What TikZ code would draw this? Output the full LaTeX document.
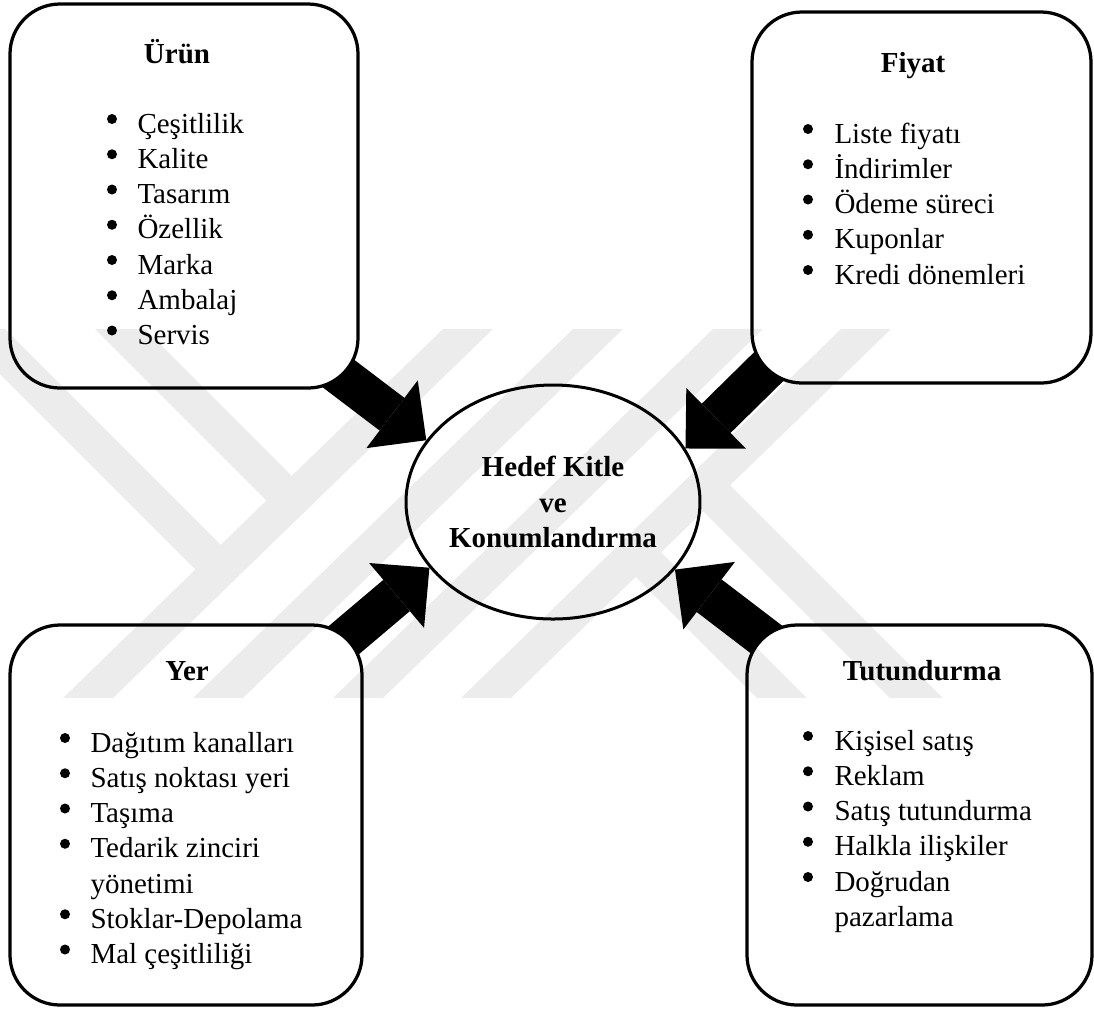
\documentclass[tikz,border=0pt]{standalone}
\usepackage{fontspec}
\setmainfont{Liberation Serif}
\usetikzlibrary{arrows.meta, shapes.geometric, backgrounds}
\tikzset{every picture/.style={font issue=\fontsize{11.6}{14.1}},
         font issue/.style={execute at begin picture={#1\selectfont}}
        }

\begin{document}
\begin{tikzpicture}[x=0.4pt, y=-0.4pt,
  mixbox/.style={draw, line width=1.3pt, rounded corners=20pt, fill=white, inner sep=0pt},
  hedefnode/.style={draw, ellipse, line width=1.2pt, fill=white, inner sep=0pt,
    minimum width=107.2pt, minimum height=93.6pt, align=center, font=\bfseries},
  baslik/.style={anchor=base, inner sep=0pt, font=\bfseries},
  liste/.style={anchor=base west, inner sep=0pt},
  blockarrow/.style={line width=16.4pt, shorten <=-16pt,
    -{Triangle[length=17.2pt, width=34pt, line width=0pt]}}]
\useasboundingbox (0,0) rectangle (1094,1009);

%Boxes
\node[mixbox, minimum width=139.2pt, minimum height=153.6pt] (urun) at (184,196) {};
\node[mixbox, minimum width=135.6pt, minimum height=148.4pt] (fiyat) at (921.5,197.5) {};
\node[mixbox, minimum width=140.8pt, minimum height=152pt] (yer) at (186,815) {};
\node[mixbox, minimum width=138pt, minimum height=152pt] (tut) at (919.5,815) {};

\node[hedefnode] (hedef) at (553,502) {Hedef Kitle\\ve\\Konumlandırma};

%Titles
\node[baslik] (urunbaslik) at (177,63) {Ürün};
\node[baslik] (fiyatbaslik) at (913,72) {Fiyat};
\node[baslik] (yerbaslik) at (187,680) {Yer};
\node[baslik] (tutbaslik) at (922,680) {Tutundurma};

%Lists
\node[liste] (urunliste) at (137,133) {\begin{tabular}[t]{@{}l@{}}
  Çeşitlilik\\ Kalite\\ Tasarım\\ Özellik\\ Marka\\ Ambalaj\\ Servis
\end{tabular}};
\node[liste] (fiyatliste) at (834,143) {\begin{tabular}[t]{@{}l@{}}
  Liste fiyatı\\ İndirimler\\ Ödeme süreci\\ Kuponlar\\ Kredi dönemleri
\end{tabular}};
\node[liste] (yerliste) at (90,752) {\begin{tabular}[t]{@{}l@{}}
  Dağıtım kanalları\\ Satış noktası yeri\\ Taşıma\\ Tedarik zinciri\\ yönetimi\\
  Stoklar-Depolama\\ Mal çeşitliliği
\end{tabular}};
\node[liste] (tutliste) at (834,750) {\begin{tabular}[t]{@{}l@{}}
  Kişisel satış\\ Reklam\\ Satış tutundurma\\ Halkla ilişkiler\\ Doğrudan\\ pazarlama
\end{tabular}};

%Bullets
\foreach \i in {0,...,6} \fill (112,119+\i*35.25) circle (5);
\foreach \i in {0,...,4} \fill (808,129+\i*35.25) circle (5);
\foreach \i in {0,1,2,3,5,6} \fill (65,738+\i*35.25) circle (5);
\foreach \i in {0,...,4} \fill (808,736+\i*35.25) circle (5);

%Arrows
\begin{scope}[on background layer]
\draw[blockarrow] (urun.south east) -- (hedef.154);
\draw[blockarrow] (fiyat.south west) -- (hedef.22);
\draw[blockarrow] (yer.north east) -- (hedef.208);
\draw[blockarrow] (tut.north west) -- (hedef.331);
\end{scope}

%Watermark
\begin{scope}
\clip (0,329) rectangle (1094,698);
\fill[black, opacity=0.075]
  \foreach \l in {443,573,713,841} {(\l,329) -- ++(50,0) -- ++(-380,369) -- ++(-50,0) -- cycle}
  (-45,329) -- (5,329) -- (233,557) -- (208,582) -- cycle
  (95,329) -- (145,329) -- (304,488) -- (279,513) -- cycle
  (718,473) -- (943,698) -- (890,698) -- (691,499) -- cycle
  (649,540) -- (807,698) -- (757,698) -- (624,565) -- cycle;
\end{scope}
\end{tikzpicture}
\end{document}
